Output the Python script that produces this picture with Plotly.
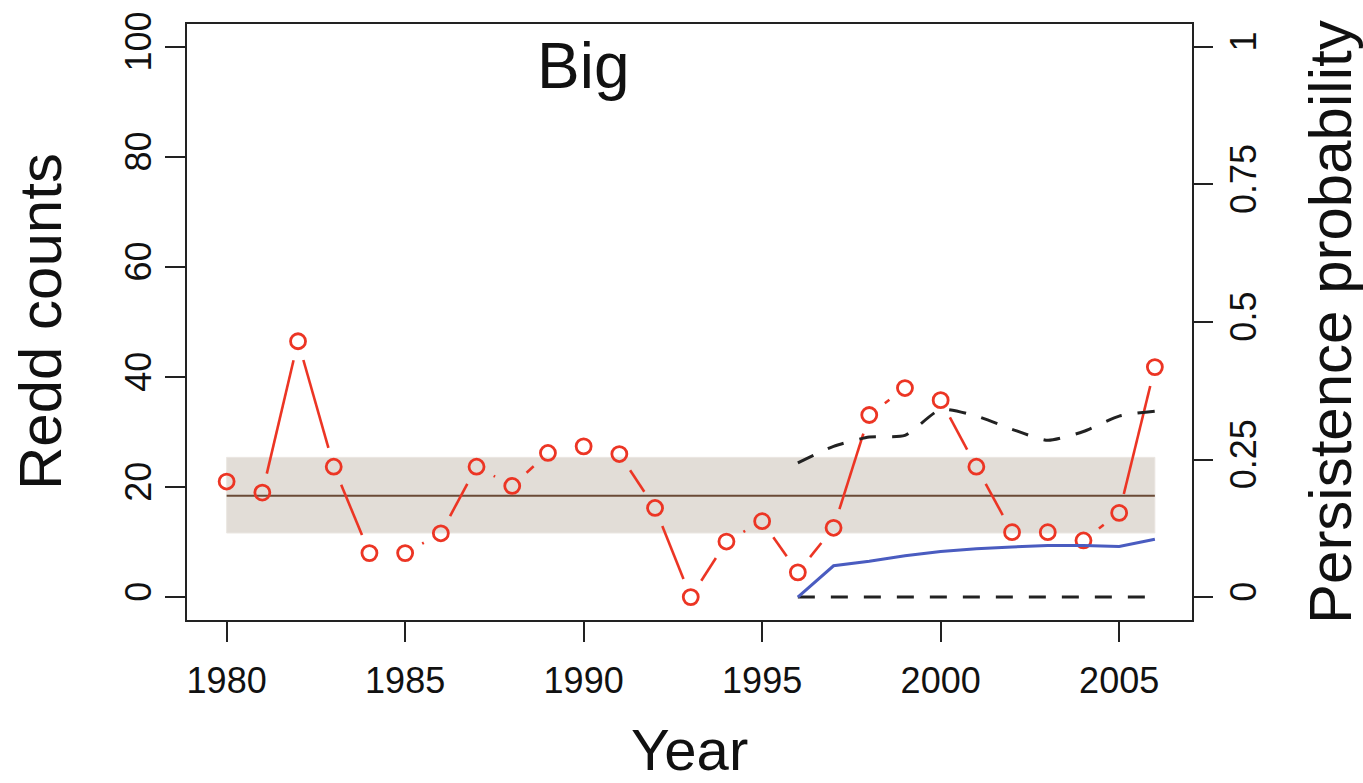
import math
import plotly.graph_objects as go

# ---------------- data ----------------
years = list(range(1980, 2007))
redd_counts = [21, 19, 46.5, 23.7, 8, 8, 11.6, 23.7, 20.2, 26.2, 27.4, 26, 16.2, 0,
               10.1, 13.8, 4.5, 12.6, 33.1, 38, 35.8, 23.7, 11.8, 11.8, 10.3, 15.3, 41.8]
mean_count = 18.4
band_low = 11.65
band_high = 25.4

prob_years = list(range(1996, 2007))
prob_mid = [0.0, 0.057, 0.065, 0.075, 0.083, 0.088, 0.091, 0.094, 0.094, 0.092, 0.105]
prob_upper = [0.244, 0.274, 0.291, 0.294, 0.341, 0.329, 0.305, 0.285, 0.301, 0.329, 0.338]
prob_lower = [0.0] * len(prob_years)

x_ticks = [1980, 1985, 1990, 1995, 2000, 2005]
y_ticks = [0, 20, 40, 60, 80, 100]
y2_ticks = [0, 0.25, 0.5, 0.75, 1]
y2_ticklabels = ["0", "0.25", "0.5", "0.75", "1"]

# ---------------- layout constants ----------------
W, H = 1363, 783
ML, MR, MT, MB = 187, 171, 24, 163
XR = [1978.89, 2007.04]
YR = [-4.16, 104.16]
Y2R = [-0.0416, 1.0416]
FONT = "Liberation Sans, Arial, sans-serif"
RED = "#ec3524"

# R type="b": line segments with gaps around points
pw, ph = W - ML - MR, H - MT - MB
sx = pw / (XR[1] - XR[0])
sy = ph / (YR[1] - YR[0])
gap = 19.5
seg_x, seg_y = [], []
for i in range(len(years) - 1):
    x1, y1, x2, y2 = years[i], redd_counts[i], years[i + 1], redd_counts[i + 1]
    L = math.hypot((x2 - x1) * sx, (y2 - y1) * sy)
    if L > 2 * gap:
        t = gap / L
        seg_x += [x1 + t * (x2 - x1), x2 - t * (x2 - x1), None]
        seg_y += [y1 + t * (y2 - y1), y2 - t * (y2 - y1), None]

fig = go.Figure()

# band
fig.add_trace(go.Scatter(
    x=[years[0], years[-1], years[-1], years[0], years[0]],
    y=[band_low, band_low, band_high, band_high, band_low],
    fill="toself", fillcolor="#e2ddd7", line=dict(color="#ebe7e2", width=1),
    mode="lines", hoverinfo="skip", showlegend=False))
# mean line
fig.add_trace(go.Scatter(
    x=[years[0], years[-1]], y=[mean_count, mean_count], mode="lines",
    line=dict(color="#6a4a36", width=2), showlegend=False))
# red segments
fig.add_trace(go.Scatter(x=seg_x, y=seg_y, mode="lines",
                         line=dict(color=RED, width=2.6), showlegend=False))
# red open circles
fig.add_trace(go.Scatter(x=years, y=redd_counts, mode="markers",
                         marker=dict(symbol="circle-open", size=15, color=RED,
                                     line=dict(width=2.8, color=RED)),
                         showlegend=False))
# probabilities on right axis
fig.add_trace(go.Scatter(x=prob_years, y=prob_lower, yaxis="y2", mode="lines",
                         line=dict(color="#222222", width=3, dash="17px,16px"),
                         showlegend=False))
fig.add_trace(go.Scatter(x=prob_years, y=prob_upper, yaxis="y2", mode="lines",
                         line=dict(color="#222222", width=3, dash="17px,16px",
                                   shape="spline", smoothing=0.6),
                         showlegend=False))
fig.add_trace(go.Scatter(x=prob_years, y=prob_mid, yaxis="y2", mode="lines",
                         line=dict(color="#4a5cc0", width=3), showlegend=False))

axis_common = dict(showgrid=False, zeroline=False, ticks="outside", ticklen=20,
                   tickwidth=1.6, tickcolor="#222222",
                   tickfont=dict(family=FONT, size=36, color="#111111"))

fig.update_layout(
    width=W, height=H,
    margin=dict(l=ML, r=MR, t=MT, b=MB, pad=0),
    paper_bgcolor="white", plot_bgcolor="white",
    xaxis=dict(range=XR, tickvals=x_ticks, showline=True, linecolor="#222222",
               linewidth=2, mirror=True, ticklabelstandoff=8, **axis_common),
    yaxis=dict(range=YR, tickvals=y_ticks, showline=True, linecolor="#222222",
               linewidth=2, mirror=True, tickangle=-90, **axis_common),
    yaxis2=dict(range=Y2R, tickvals=y2_ticks, ticktext=y2_ticklabels,
                overlaying="y", side="right", showline=False, tickangle=-90,
                **axis_common),
    showlegend=False,
    annotations=[
        dict(text="Big", x=1990, y=96.5, xref="x", yref="y", showarrow=False,
             xanchor="center", yanchor="middle",
             font=dict(family=FONT, size=64, color="#111111")),
        dict(text="Year", x=0.5, y=0, xref="paper", yref="paper", showarrow=False,
             xanchor="center", yanchor="middle", yshift=-(749 - (H - MB)),
             font=dict(family=FONT, size=58, color="#111111")),
        dict(text="Redd counts", x=0, y=0.5, xref="paper", yref="paper", showarrow=False,
             xanchor="center", yanchor="middle", xshift=40 - ML, textangle=-90,
             font=dict(family=FONT, size=60, color="#111111")),
        dict(text="Persistence probability", x=1, y=0.5, xref="paper", yref="paper",
             showarrow=False, xanchor="center", yanchor="middle",
             xshift=1330 - (W - MR), textangle=-90,
             font=dict(family=FONT, size=60, color="#111111")),
    ],
)

fig.write_html("out.html")
